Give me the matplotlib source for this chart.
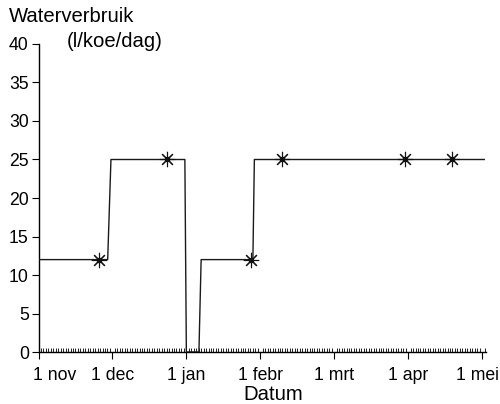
import numpy as np
import matplotlib.pyplot as plt
from matplotlib.ticker import MultipleLocator
from matplotlib.transforms import ScaledTranslation

plt.rcParams["font.family"] = ["Liberation Sans", "DejaVu Sans"]

# x in months after 1 nov
line_x = [0.0, 0.936, 0.98, 1.98, 2.0, 2.17, 2.2, 2.90, 2.92, 6.03]
line_y = [12, 12, 25, 25, 0, 0, 12, 12, 25, 25]
mark_x = [0.815, 1.735, 2.87, 3.30, 4.96, 5.595]
mark_y = [12, 25, 12, 25, 25, 25]
month_labels = ["1 nov", "1 dec", "1 jan", "1 febr", "1 mrt", "1 apr", "1 mei"]
y_ticks = [0, 5, 10, 15, 20, 25, 30, 35, 40]

fig = plt.figure(figsize=(5.0, 4.04), dpi=100)
ax = fig.add_axes([0.077, 0.1287, 0.8945, 0.7624])

ax.plot(line_x, line_y, color="#1a1a1a", lw=1.0, zorder=3)
ax.plot(mark_x, mark_y, ls="none", marker=(8, 2, 0), ms=11, mew=0.8,
        color="#111111", zorder=4)
ax.plot(mark_x, mark_y, ls="none", marker="o", ms=3, color="#111111", zorder=5)

ax.set_xlim(0, 6.05)
ax.set_ylim(0, 40)
ax.set_xticks(range(len(month_labels)))
ax.set_xticklabels(month_labels)
ax.xaxis.set_minor_locator(MultipleLocator(1 / 30))
ax.set_yticks(y_ticks)

for s in ["top", "right"]:
    ax.spines[s].set_visible(False)
for s in ["left", "bottom"]:
    ax.spines[s].set_linewidth(1.0)

ax.tick_params(axis="both", which="major", labelsize=12.7, direction="out",
               length=5, width=0.8)
ax.tick_params(axis="x", which="major", pad=5.5)
ax.tick_params(axis="y", which="major", pad=2)
ax.tick_params(axis="x", which="minor", direction="in", length=3, width=0.6)

# first and last date labels pulled inwards, as in the original
xlabs = ax.get_xticklabels()
xlabs[0].set_transform(xlabs[0].get_transform()
                       + ScaledTranslation(16 / 100, 0, fig.dpi_scale_trans))
xlabs[-1].set_transform(xlabs[-1].get_transform()
                        + ScaledTranslation(-5 / 100, 0, fig.dpi_scale_trans))

fig.text(273 / 500, 1 - 400 / 404, "Datum", fontsize=14.6, ha="center",
         va="baseline")
fig.text(9 / 500, 1 - 22 / 404, "Waterverbruik", fontsize=14.6, ha="left",
         va="baseline")
fig.text(67 / 500, 1 - 47 / 404, "(l/koe/dag)", fontsize=14.6, ha="left",
         va="baseline")

fig.savefig("out.png", dpi=100)
